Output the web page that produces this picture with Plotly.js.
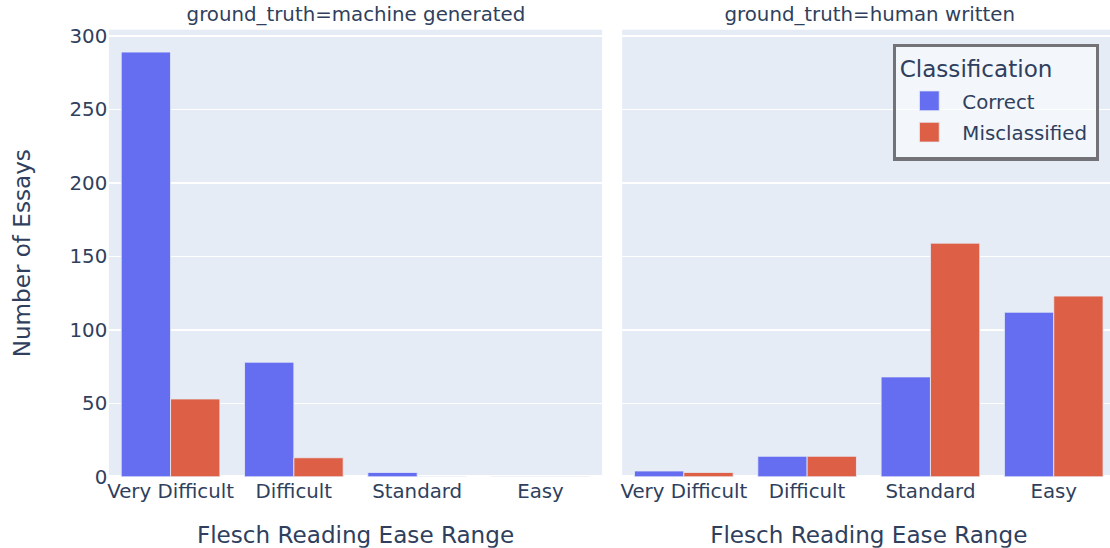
<!DOCTYPE html>
<html>
<head>
<meta charset="utf-8">
<script src="https://cdn.plot.ly/plotly-3.0.1.min.js"></script>
<style>
html{margin:0;padding:0;overflow:hidden;background:#fff}
body{margin:0;padding:0;width:1110px;height:548px;background:#fff}
#chart{width:676px;height:332px;transform:scale(1.65);transform-origin:0 0}
</style>
</head>
<body>
<div id="chart"></div>
<script>
const categories = ["Very Difficult", "Difficult", "Standard", "Easy"];
const machineCorrect = [289, 78, 3, 0];
const machineMisclassified = [53, 13, 0, 0];
const humanCorrect = [4, 14, 68, 112];
const humanMisclassified = [3, 14, 159, 123];
const facetTitles = ["ground_truth=machine generated", "ground_truth=human written"];
const seriesNames = ["Correct", "Misclassified"];
const colors = ["#656ef1", "#dd6046"];

const bg = "#e6ecf5";
const mk = (name, color, x, y, xa, ya, show) => ({
  type: "bar", name: name, legendgroup: name, showlegend: show,
  x: x, y: y, xaxis: xa, yaxis: ya,
  marker: {color: color, line: {color: bg, width: 0.5}}
});

const data = [
  mk(seriesNames[0], colors[0], categories, machineCorrect, "x", "y", true),
  mk(seriesNames[0], colors[0], categories, humanCorrect, "x2", "y2", false),
  mk(seriesNames[1], colors[1], categories, machineMisclassified, "x", "y", true),
  mk(seriesNames[1], colors[1], categories, humanMisclassified, "x2", "y2", false)
];

const fontColor = "#2f3f5d";
const d1 = [0, 493 / 1006], d2 = [513 / 1006, 1];
const layout = {
  width: 676, height: 332,
  margin: {l: 66, r: 0, t: 17.6, b: 43},
  paper_bgcolor: "#ffffff", plot_bgcolor: bg,
  font: {family: "DejaVu Sans, Verdana, sans-serif", color: fontColor, size: 12},
  barmode: "group", bargap: 0.2,
  xaxis: {domain: d1, anchor: "y", type: "category", categoryorder: "array", categoryarray: categories,
    showgrid: false, zeroline: false,
    title: {text: "Flesch Reading Ease Range", font: {size: 14}}},
  xaxis2: {domain: d2, anchor: "y2", type: "category", categoryorder: "array", categoryarray: categories,
    matches: "x", showgrid: false, zeroline: false,
    title: {text: "Flesch Reading Ease Range", font: {size: 14}}},
  yaxis: {anchor: "x", gridcolor: "#ffffff", gridwidth: 1, zerolinecolor: "#ffffff", zerolinewidth: 2,
    dtick: 50, automargin: true, title: {text: "Number of Essays", font: {size: 14}, standoff: 19.5}},
  yaxis2: {anchor: "x2", matches: "y", showticklabels: false, gridcolor: "#ffffff", gridwidth: 1,
    zerolinecolor: "#ffffff", zerolinewidth: 2, dtick: 50},
  legend: {title: {text: "Classification", font: {size: 14}}, font: {size: 12},
    x: 0.984, xanchor: "right", y: 0.969, yanchor: "top", tracegroupgap: 0,
    bordercolor: "#737377", borderwidth: 2, bgcolor: "rgba(255,255,255,0.5)"},
  annotations: facetTitles.map((t, i) => ({
    text: t, showarrow: false, xref: "paper", yref: "paper",
    x: i === 0 ? (d1[0] + d1[1]) / 2 : (d2[0] + d2[1]) / 2, y: 1,
    xanchor: "center", yanchor: "bottom", font: {size: 12}
  }))
};

Plotly.newPlot("chart", data, layout, {displayModeBar: false, responsive: false, staticPlot: true});
</script>
</body>
</html>
